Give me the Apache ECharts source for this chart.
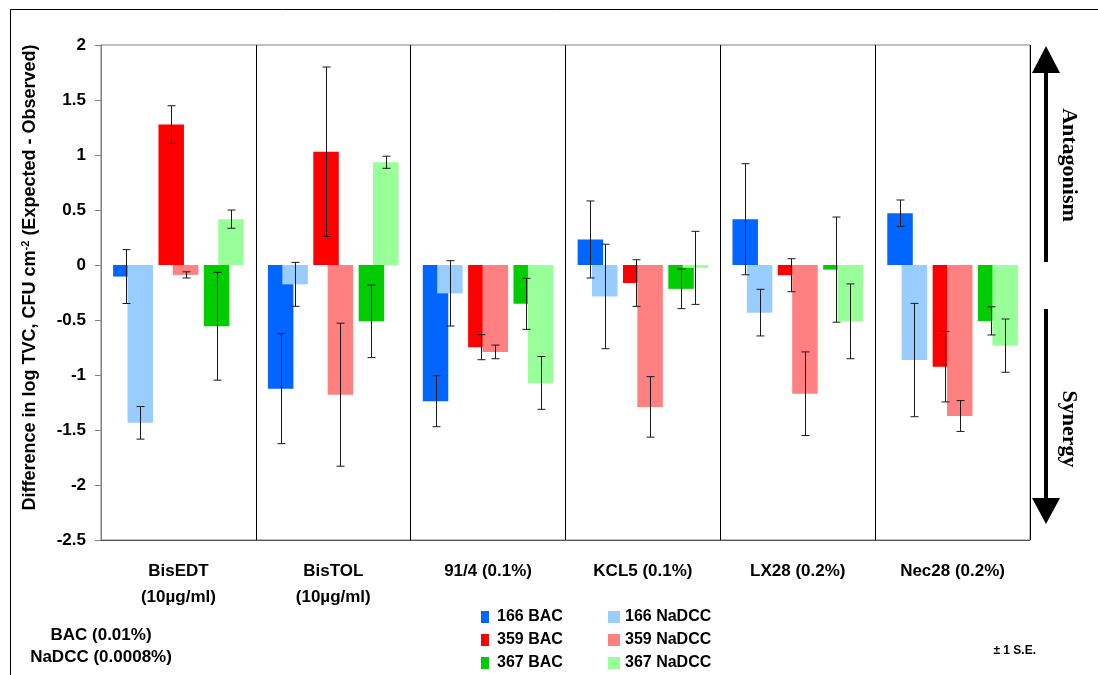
<!DOCTYPE html>
<html>
<head>
<meta charset="utf-8">
<script src="https://cdn.jsdelivr.net/npm/echarts@6/dist/echarts.min.js"></script>
<style>
  html, body { margin: 0; padding: 0; background: #fff; }
  #chart { width: 1098px; height: 675px; }
</style>
</head>
<body>
<div id="chart"></div>
<script>
// Treatments along the x axis
const categories = ['BisEDT\n(10µg/ml)', 'BisTOL\n(10µg/ml)', '91/4 (0.1%)', 'KCL5 (0.1%)', 'LX28 (0.2%)', 'Nec28 (0.2%)'];

// Difference in log TVC (Expected - Observed) and its standard error
const bac166     = [-0.105, -1.124, -1.238,  0.232,  0.416,  0.471];
const bac166SE   = [ 0.245,  0.500,  0.232,  0.350,  0.505,  0.120];
const nadcc166   = [-1.435, -0.176, -0.258, -0.286, -0.433, -0.864];
const nadcc166SE = [ 0.148,  0.200,  0.297,  0.475,  0.212,  0.515];
const bac359     = [ 1.277,  1.030, -0.747, -0.164, -0.093, -0.925];
const bac359SE   = [ 0.171,  0.770,  0.114,  0.212,  0.150,  0.320];
const nadcc359   = [-0.090, -1.179, -0.790, -1.290, -1.170, -1.373];
const nadcc359SE = [ 0.028,  0.650,  0.062,  0.275,  0.380,  0.140];
const bac367     = [-0.557, -0.512, -0.353, -0.217, -0.042, -0.508];
const bac367SE   = [ 0.490,  0.330,  0.232,  0.180,  0.478,  0.128];
const nadcc367   = [ 0.417,  0.934, -1.072, -0.026, -0.512, -0.733];
const nadcc367SE = [ 0.083,  0.055,  0.240,  0.332,  0.340,  0.242];

// Value axis range
const yMin = -2.5, yMax = 2, yStep = 0.5;

const FONT = '"Liberation Sans", Arial, sans-serif';
const SERIF = '"Liberation Serif", "Times New Roman", serif';

// Plot area
const PLOT = { left: 101, top: 45, width: 929, height: 495 };
const BAR_W = 25.5;
const BAR_GAP = 19.85;
const SET_SHIFT = 7.2; // BAC set sits left of centre, NaDCC set right

const chart = echarts.init(document.getElementById('chart'), null, { renderer: 'canvas' });

const bacSeries = [
  { name: '166 BAC', data: bac166, se: bac166SE, color: '#0066FF' },
  { name: '359 BAC', data: bac359, se: bac359SE, color: '#FF0000' },
  { name: '367 BAC', data: bac367, se: bac367SE, color: '#00CC00' }
];
const nadccSeries = [
  { name: '166 NaDCC', data: nadcc166, se: nadcc166SE, color: '#99CCFF' },
  { name: '359 NaDCC', data: nadcc359, se: nadcc359SE, color: '#FF8080' },
  { name: '367 NaDCC', data: nadcc367, se: nadcc367SE, color: '#99FF99' }
];

function barSeries(def, gridIdx, z) {
  return {
    type: 'bar',
    name: def.name,
    xAxisIndex: gridIdx,
    yAxisIndex: gridIdx,
    data: def.data,
    barWidth: BAR_W,
    barGap: (BAR_GAP / BAR_W * 100).toFixed(2) + '%',
    itemStyle: { color: def.color },
    z: z,
    animation: false
  };
}

function errorSeries(def, gridIdx, k) {
  const offset = (k - 1) * (BAR_W + BAR_GAP);
  return {
    type: 'custom',
    name: def.name + ' SE',
    xAxisIndex: gridIdx,
    yAxisIndex: gridIdx,
    data: def.data.map((v, i) => [i, v, def.se[i]]),
    encode: { x: 0, y: 1 },
    z: 10,
    silent: true,
    animation: false,
    renderItem: function (params, api) {
      const i = api.value(0), v = api.value(1), e = api.value(2);
      const hi = api.coord([i, v + e]);
      const lo = api.coord([i, v - e]);
      const x = Math.round(hi[0] + offset) + 0.5;
      const cap = 4;
      const style = { stroke: '#1a1a1a', lineWidth: 1 };
      return {
        type: 'group',
        children: [
          { type: 'line', shape: { x1: x, y1: hi[1], x2: x, y2: lo[1] }, style: style },
          { type: 'line', shape: { x1: x - cap, y1: hi[1], x2: x + cap, y2: hi[1] }, style: style },
          { type: 'line', shape: { x1: x - cap, y1: lo[1], x2: x + cap, y2: lo[1] }, style: style }
        ]
      };
    }
  };
}

const hiddenValueAxis = (gridIndex) => ({
  type: 'value', gridIndex: gridIndex, min: yMin, max: yMax, interval: yStep, show: false
});
const hiddenCatAxis = (gridIndex) => ({
  type: 'category', gridIndex: gridIndex, data: categories, show: false
});

const series = [];
bacSeries.forEach((d) => series.push(barSeries(d, 1, 2)));
nadccSeries.forEach((d) => series.push(barSeries(d, 2, 3)));
bacSeries.forEach((d, k) => series.push(errorSeries(d, 1, k)));
nadccSeries.forEach((d, k) => series.push(errorSeries(d, 2, k)));

const legendText = { fontFamily: FONT, fontWeight: 'bold', fontSize: 16, color: '#000', padding: [0, 0, 0, 3] };

const option = {
  backgroundColor: '#fff',
  animation: false,
  textStyle: { fontFamily: FONT },
  grid: [
    // frame, value axis and treatment labels
    { left: PLOT.left, top: PLOT.top, width: PLOT.width, height: PLOT.height, show: true, borderColor: '#808080', borderWidth: 1, backgroundColor: 'transparent' },
    // BAC bars
    { left: PLOT.left - SET_SHIFT, top: PLOT.top, width: PLOT.width, height: PLOT.height },
    // NaDCC bars
    { left: PLOT.left + SET_SHIFT, top: PLOT.top, width: PLOT.width, height: PLOT.height }
  ],
  xAxis: [
    {
      type: 'category', gridIndex: 0, data: categories, position: 'bottom',
      axisLine: { show: false },
      axisTick: { show: false },
      splitLine: { show: true, lineStyle: { color: '#000', width: 1 } },
      axisLabel: {
        interval: 0, margin: 18, lineHeight: 26,
        fontFamily: FONT, fontWeight: 'bold', fontSize: 17, color: '#000'
      }
    },
    hiddenCatAxis(1),
    hiddenCatAxis(2),
    {
      // zero line
      type: 'category', gridIndex: 0, data: categories, position: 'bottom',
      axisLine: { show: true, onZero: true, lineStyle: { color: '#555', width: 1 } },
      axisTick: { show: false }, axisLabel: { show: false }, splitLine: { show: false },
      z: 20
    }
  ],
  yAxis: [
    {
      type: 'value', gridIndex: 0, min: yMin, max: yMax, interval: yStep,
      axisLine: { show: true, lineStyle: { color: '#808080' } },
      axisTick: { show: true, inside: false, length: 6, lineStyle: { color: '#808080' } },
      splitLine: { show: false },
      axisLabel: { margin: 15, fontFamily: FONT, fontWeight: 'bold', fontSize: 17, color: '#000' },
      name: '{t|Difference in log TVC, CFU cm}{s|-2}{t| (Expected - Observed)}',
      nameLocation: 'middle',
      nameRotate: 90,
      nameGap: 60,
      nameTextStyle: {
        padding: [0, 0, 0, 30],
        rich: {
          t: { fontFamily: FONT, fontWeight: 'bold', fontSize: 18, color: '#000' },
          s: { fontFamily: FONT, fontWeight: 'bold', fontSize: 11, color: '#000', padding: [0, 0, 10, 0] }
        }
      }
    },
    hiddenValueAxis(1),
    hiddenValueAxis(2)
  ],
  legend: [
    {
      data: bacSeries.map((d) => d.name), orient: 'vertical', left: 481, top: 609, padding: 0,
      itemWidth: 8, itemHeight: 12, itemGap: 7, icon: 'rect', textStyle: legendText,
      selectedMode: false
    },
    {
      data: nadccSeries.map((d) => d.name), orient: 'vertical', left: 608, top: 609, padding: 0,
      itemWidth: 12, itemHeight: 12, itemGap: 7, icon: 'rect',
      textStyle: Object.assign({}, legendText, { padding: [0, 0, 0, 0] }),
      selectedMode: false
    }
  ],
  series: series,
  graphic: [
    // outer frame
    { type: 'rect', shape: { x: 10.5, y: 9.5, width: 1200, height: 800 }, style: { fill: 'none', stroke: '#000', lineWidth: 1 }, silent: true },
    // antagonism arrow
    { type: 'rect', shape: { x: 1044, y: 70, width: 4, height: 192 }, style: { fill: '#000' }, silent: true },
    { type: 'polygon', shape: { points: [[1046, 46], [1060, 73], [1032, 73]] }, style: { fill: '#000' }, silent: true },
    // synergy arrow
    { type: 'rect', shape: { x: 1044, y: 309, width: 4, height: 192 }, style: { fill: '#000' }, silent: true },
    { type: 'polygon', shape: { points: [[1032, 498], [1060, 498], [1046, 524]] }, style: { fill: '#000' }, silent: true },
    {
      type: 'text', x: 1069, y: 165, rotation: -Math.PI / 2, silent: true,
      style: { text: 'Antagonism', font: 'bold 22px ' + SERIF, fill: '#000', align: 'center', verticalAlign: 'middle' }
    },
    {
      type: 'text', x: 1069, y: 429, rotation: -Math.PI / 2, silent: true,
      style: { text: 'Synergy', font: 'bold 22px ' + SERIF, fill: '#000', align: 'center', verticalAlign: 'middle' }
    },
    // concentrations
    {
      type: 'text', x: 101, y: 635, silent: true,
      style: { text: 'BAC (0.01%)', font: 'bold 17px ' + FONT, fill: '#000', align: 'center', verticalAlign: 'middle' }
    },
    {
      type: 'text', x: 101, y: 657, silent: true,
      style: { text: 'NaDCC (0.0008%)', font: 'bold 17px ' + FONT, fill: '#000', align: 'center', verticalAlign: 'middle' }
    },
    {
      type: 'text', x: 1036, y: 651, silent: true,
      style: { text: '± 1 S.E.', font: 'bold 12px ' + FONT, fill: '#000', align: 'right', verticalAlign: 'middle' }
    }
  ]
};

chart.setOption(option);
</script>
</body>
</html>
